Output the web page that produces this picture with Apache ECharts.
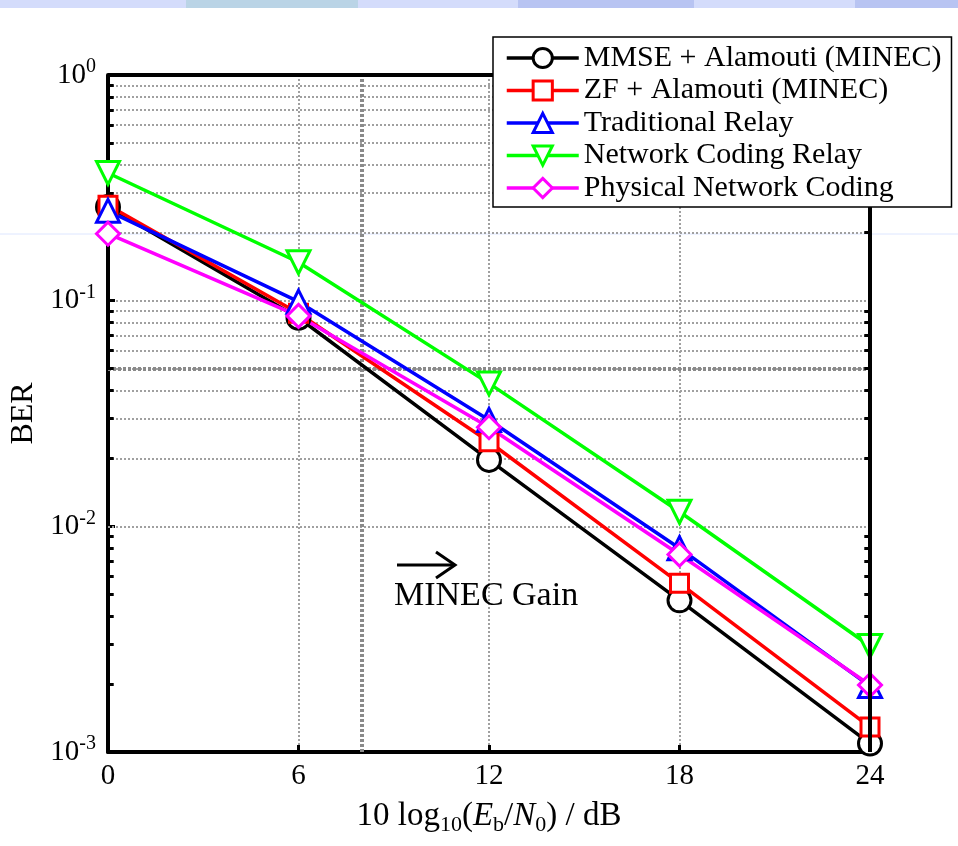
<!DOCTYPE html>
<html>
<head>
<meta charset="utf-8">
<script src="https://cdn.jsdelivr.net/npm/echarts@6/dist/echarts.min.js"></script>
<style>
	html, body { margin: 0; padding: 0; background: #fff; }
	#chart { width: 958px; height: 846px; }
</style>
</head>
<body>
<div id="chart"></div>
<script>
var snrDb = [0, 6, 12, 18, 24];
var xTicks = [0, 6, 12, 18, 24];
var yDecades = [1e-3, 1e-2, 1e-1, 1];

var berMmse = [0.26, 0.084, 0.0197, 0.0047, 0.00109];
var berZf = [0.265, 0.088, 0.0237, 0.0056, 0.00129];
var berTraditional = [0.25, 0.099, 0.0296, 0.0080, 0.00196];
var berNetCoding = [0.368, 0.148, 0.043, 0.0116, 0.00295];
var berPhysical = [0.198, 0.0856, 0.0275, 0.0075, 0.00198];

var seriesNames = [
	"MMSE + Alamouti (MINEC)",
	"ZF + Alamouti (MINEC)",
	"Traditional Relay",
	"Network Coding Relay",
	"Physical Network Coding",
];

var serif = "Liberation Serif";

function pairs(ys) {
	return snrDb.map(function(x, i) { return [x, ys[i]]; });
}

// minor log grid lines 2..9 in each decade
var minorLines = [];
var minorTicks = [];
for (var d = 0; d < 3; d++) {
	for (var m = 2; m <= 9; m++) {
		var v = m * yDecades[d];
		minorLines.push({ yAxis: v });
		minorTicks.push([{ coord: [0, v] }, { coord: [0.18, v] }]);
		minorTicks.push([{ coord: [23.82, v] }, { coord: [24, v] }]);
	}
}

var gridLine = { color: '#a0a0a0', width: 2, type: [2, 2] };

function mkSeries(name, data, color, symbol, size, rotate) {
	return {
		name: name,
		type: 'line',
		data: pairs(data),
		symbol: symbol,
		symbolSize: size,
		symbolRotate: rotate || 0,
		showAllSymbol: true,
		lineStyle: { color: color, width: 3.5 },
		itemStyle: { color: '#fff', borderColor: color, borderWidth: 3 },
		emphasis: { disabled: true },
		z: 5,
	};
}

var chart = echarts.init(document.getElementById('chart'));

var option = {
	animation: false,
	backgroundColor: '#fff',
	grid: { left: 108, right: 88, top: 75, bottom: 94, containLabel: false, outerBoundsMode: 'none' },
	legend: {
		left: 493,
		top: 37,
		orient: 'vertical',
		backgroundColor: '#fff',
		borderColor: '#000',
		borderWidth: 1.5,
		borderRadius: 0,
		padding: [6, 10, 4, 12],
		itemWidth: 72,
		itemHeight: 24,
		itemGap: 2.5,
		data: seriesNames,
		lineStyle: { width: 3.5 },
		itemStyle: { borderWidth: 3 },
		textStyle: { fontFamily: serif, fontSize: 30, lineHeight: 30, color: '#000' },
		z: 20,
	},
	xAxis: {
		type: 'value',
		min: 0,
		max: 24,
		interval: 6,
		name: '{n|10 log}{s|10}{n|(}{i|E}{s|b}{n|/}{i|N}{s|0}{n|) / dB}',
		nameLocation: 'middle',
		nameGap: 44,
		nameTextStyle: {
			rich: {
				n: { fontFamily: serif, fontSize: 33, color: '#000' },
				i: { fontFamily: serif, fontSize: 33, fontStyle: 'italic', color: '#000' },
				s: { fontFamily: serif, fontSize: 22, color: '#000', padding: [18, 0, 0, 0] },
			}
		},
		axisLine: { onZero: false, lineStyle: { color: '#000', width: 4 } },
		axisTick: { inside: true, length: 7, lineStyle: { color: '#000', width: 3 } },
		axisLabel: { fontFamily: serif, fontSize: 29, color: '#000', margin: 10 },
		splitLine: { show: true, lineStyle: gridLine },
	},
	yAxis: {
		type: 'log',
		logBase: 10,
		min: 1e-3,
		max: 1,
		name: 'BER',
		nameLocation: 'middle',
		nameGap: 63,
		nameTextStyle: { fontFamily: serif, fontSize: 32, color: '#000' },
		axisLine: { onZero: false, lineStyle: { color: '#000', width: 4 } },
		axisTick: { inside: true, length: 7, lineStyle: { color: '#000', width: 3 } },
		axisLabel: {
			margin: 12,
			formatter: function(v) {
				var e = Math.round(Math.log10(v));
				return '{b|10}{e|' + e + '}';
			},
			rich: {
				b: { fontFamily: serif, fontSize: 29, color: '#000' },
				e: { fontFamily: serif, fontSize: 20, color: '#000', padding: [0, 0, 16, 0] },
			}
		},
		splitLine: { show: true, lineStyle: gridLine },
	},
	graphic: [
		{ type: 'rect', left: 0, top: 0, shape: { width: 958, height: 8 }, style: { fill: '#d4dcfb' }, z: 0 },
		{ type: 'rect', left: 186, top: 0, shape: { width: 172, height: 8 }, style: { fill: '#bad4e6' }, z: 0 },
		{ type: 'rect', left: 518, top: 0, shape: { width: 176, height: 8 }, style: { fill: '#b8c4f2' }, z: 0 },
		{ type: 'rect', left: 855, top: 0, shape: { width: 103, height: 8 }, style: { fill: '#b8c4f2' }, z: 0 },
		{ type: 'line', shape: { x1: 0, y1: 234, x2: 958, y2: 234 }, style: { stroke: '#dde6ff', lineWidth: 1 }, z: 1 },
		// top and right frame
		{ type: 'line', shape: { x1: 108, y1: 75, x2: 870, y2: 75 }, style: { stroke: '#000', lineWidth: 4 }, z: 8 },
		{ type: 'line', shape: { x1: 870, y1: 75, x2: 870, y2: 752 }, style: { stroke: '#000', lineWidth: 4 }, z: 8 },
		// MINEC gain arrow and text
		{ type: 'line', shape: { x1: 397, y1: 565, x2: 454, y2: 565 }, style: { stroke: '#000', lineWidth: 3 }, z: 9 },
		{ type: 'polyline', shape: { points: [[436, 552], [455, 565], [436, 578]] }, style: { stroke: '#000', lineWidth: 3, fill: null }, z: 9 },
		{ type: 'text', left: 394, top: 579, style: { text: 'MINEC Gain', font: '34px "Liberation Serif"', fill: '#000' }, z: 9 },
	],
	series: [
		{
			type: 'line',
			data: [],
			silent: true,
			z: 1,
			markLine: {
				silent: true,
				symbol: 'none',
				label: { show: false },
				animation: false,
				lineStyle: gridLine,
				data: minorLines.concat([
					{ yAxis: 0.05, lineStyle: { color: '#8a8a8a', width: 4, type: [3, 2] } },
					{ xAxis: 8, lineStyle: { color: '#8a8a8a', width: 4, type: [3, 2] } },
				]),
			},
		},
		{
			type: 'line',
			data: [],
			silent: true,
			z: 9,
			markLine: {
				silent: true,
				symbol: 'none',
				label: { show: false },
				animation: false,
				lineStyle: { color: '#000', width: 3, type: 'solid' },
				data: minorTicks,
			},
		},
		mkSeries(seriesNames[0], berMmse, '#000000', 'circle', 23),
		mkSeries(seriesNames[1], berZf, '#ff0000', 'rect', 18),
		mkSeries(seriesNames[2], berTraditional, '#0000ff', 'triangle', 23),
		mkSeries(seriesNames[3], berNetCoding, '#00ff00', 'triangle', 23, 180),
		mkSeries(seriesNames[4], berPhysical, '#ff00ff', 'diamond', 23),
	],
};

chart.setOption(option);
</script>
</body>
</html>
